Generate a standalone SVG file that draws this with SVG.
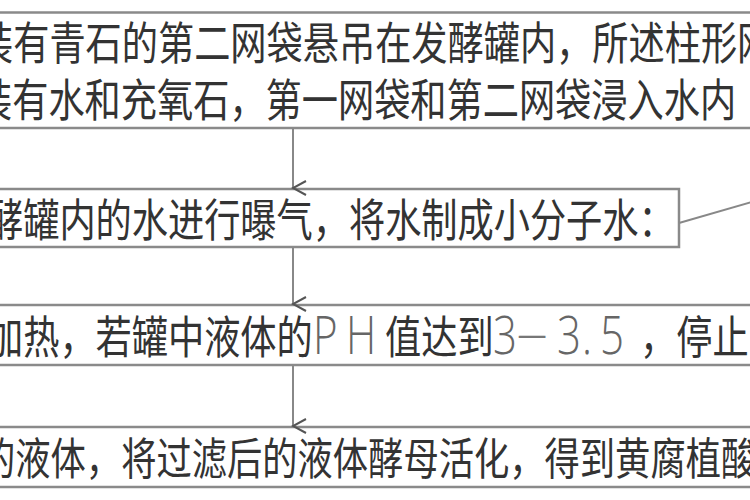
<svg xmlns="http://www.w3.org/2000/svg" width="750" height="500" viewBox="0 0 750 500">
<defs>
<style>
.box{fill:none;stroke:#8a8a8a;stroke-width:2.5}
.t{font-family:"Noto Sans CJK SC","Noto Sans CJK JP",sans-serif;fill:#333;font-size:36.2px}
.lat{font-family:"Open Sans","Liberation Sans",sans-serif;font-weight:300;fill:#666;font-size:42px}
.dash{fill:#777;font-weight:300}
.c{fill:none;stroke:#888;stroke-width:2}
</style>
<marker id="v" viewBox="-8 -16 16 18" markerWidth="16" markerHeight="18" refX="0" refY="0" orient="auto" markerUnits="userSpaceOnUse">
<path d="M-7,-13 L0,0 L7,-13" fill="none" stroke="#555" stroke-width="2"/>
</marker>
</defs>
<rect width="750" height="500" fill="#fff"/>
<g id="node1">
<rect class="box" x="-10" y="12.5" width="770" height="115.5"/>
<text class="t" transform="translate(0,60) scale(1,1.25)" x="-23" y="0">装有青石的第二网袋悬吊在发酵罐内，所述柱形网</text>
<text class="t" transform="translate(0,117) scale(1,1.25)" x="-24" y="0">装有水和充氧石，第一网袋和第二网袋浸入水内</text>
</g>
<g id="node2">
<rect class="box" x="-10" y="189" width="689" height="58"/>
<text class="t" transform="translate(0,237) scale(1,1.25)" x="-13" y="0">酵罐内的水进行曝气，将水制成小分子水：</text>
</g>
<g id="node3">
<rect class="box" x="-10" y="305" width="770" height="60"/>
<text class="t" transform="translate(0,354) scale(1,1.25)" y="0"><tspan x="-13">加热，若罐中液体的</tspan><tspan class="lat" x="313">P</tspan><tspan class="lat" x="346">H</tspan><tspan x="385">值达到</tspan><tspan class="lat" x="493">3</tspan><tspan class="dash" x="514">－</tspan><tspan class="lat" x="557">3</tspan><tspan class="lat" x="582">.</tspan><tspan class="lat" x="600">5</tspan><tspan x="640">，停止</tspan></text>
</g>
<g id="node4">
<rect class="box" x="-10" y="427" width="770" height="60"/>
<text class="t" transform="translate(0,475) scale(1,1.25)" x="-20" y="0" style="font-size:35.3px">的液体，将过滤后的液体酵母活化，得到黄腐植酸</text>
</g>
<g id="connectors">
<line class="c" x1="293" y1="128" x2="293" y2="188" marker-end="url(#v)"/>
<line class="c" x1="293" y1="247" x2="293" y2="304" marker-end="url(#v)"/>
<line class="c" x1="293" y1="365" x2="293" y2="426" marker-end="url(#v)"/>
<line class="c" x1="679" y1="223" x2="752" y2="202"/>
</g>
</svg>
